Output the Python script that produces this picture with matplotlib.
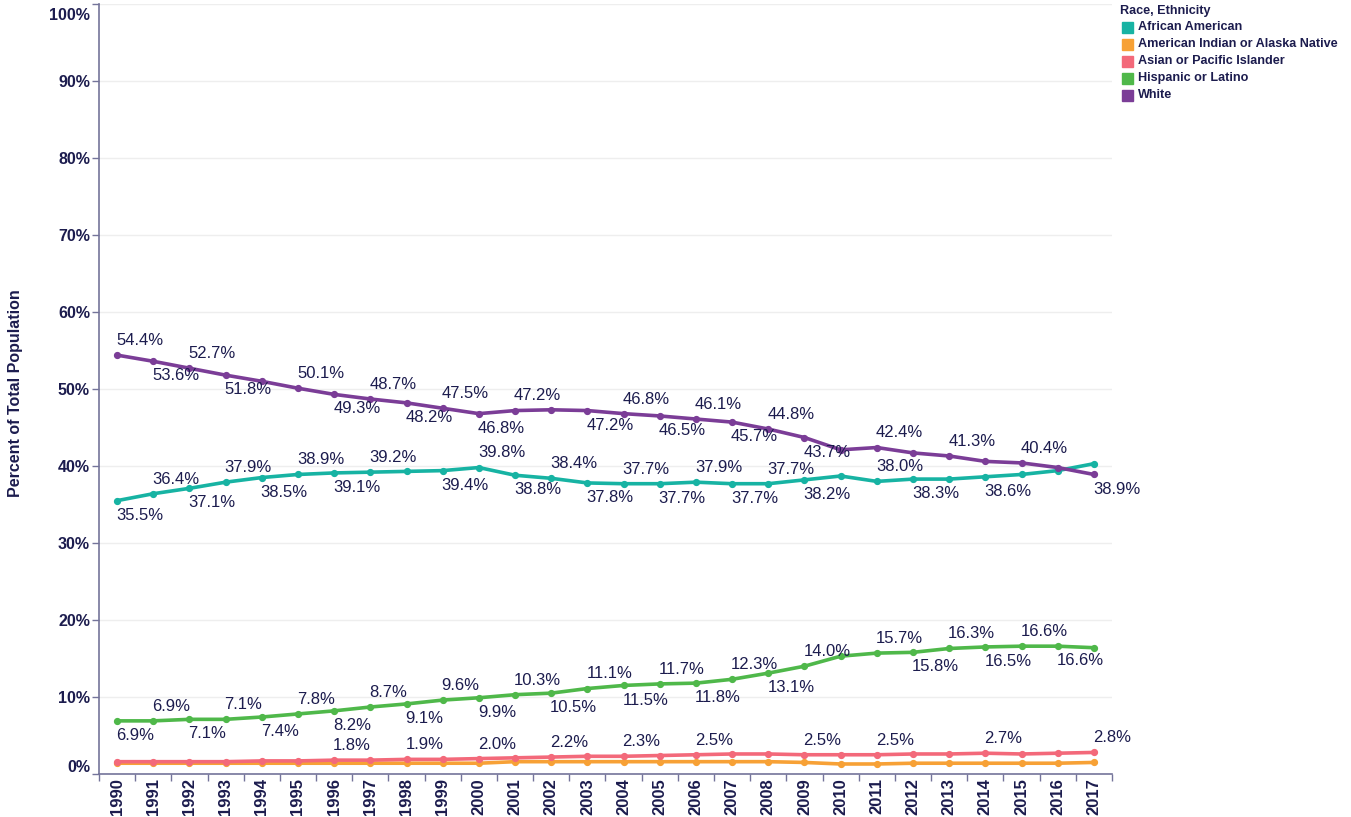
import matplotlib
matplotlib.use('Agg')
from matplotlib import pyplot as plt
from matplotlib.patches import Rectangle
import matplotlib.transforms as mtransforms

plt.rcParams['font.family'] = ['Liberation Sans', 'DejaVu Sans']

years = list(range(1990, 2018))

african_american = [35.5, 36.4, 37.1, 37.9, 38.5, 38.9, 39.1, 39.2, 39.3, 39.4,
                    39.8, 38.8, 38.4, 37.8, 37.7, 37.7, 37.9, 37.7, 37.7, 38.2,
                    38.7, 38.0, 38.3, 38.3, 38.6, 38.9, 39.4, 40.3]
american_indian = [1.4, 1.4, 1.4, 1.4, 1.4, 1.4, 1.4, 1.4, 1.4, 1.4,
                   1.4, 1.6, 1.6, 1.6, 1.6, 1.6, 1.6, 1.6, 1.6, 1.5,
                   1.3, 1.3, 1.4, 1.4, 1.4, 1.4, 1.4, 1.5]
asian_pacific = [1.6, 1.6, 1.6, 1.6, 1.7, 1.7, 1.8, 1.8, 1.9, 1.9,
                 2.0, 2.1, 2.2, 2.3, 2.3, 2.4, 2.5, 2.6, 2.6, 2.5,
                 2.5, 2.5, 2.6, 2.6, 2.7, 2.6, 2.7, 2.8]
hispanic = [6.9, 6.9, 7.1, 7.1, 7.4, 7.8, 8.2, 8.7, 9.1, 9.6,
            9.9, 10.3, 10.5, 11.1, 11.5, 11.7, 11.8, 12.3, 13.1, 14.0,
            15.3, 15.7, 15.8, 16.3, 16.5, 16.6, 16.6, 16.4]
white = [54.4, 53.6, 52.7, 51.8, 51.0, 50.1, 49.3, 48.7, 48.2, 47.5,
         46.8, 47.2, 47.3, 47.2, 46.8, 46.5, 46.1, 45.7, 44.8, 43.7,
         42.1, 42.4, 41.7, 41.3, 40.6, 40.4, 39.8, 38.9]

series_names = ['African American', 'American Indian or Alaska Native',
                'Asian or Pacific Islander', 'Hispanic or Latino', 'White']
series_values = [african_american, american_indian, asian_pacific, hispanic, white]
colors = ['#17b3a3', '#f7a136', '#f3697a', '#4fb84a', '#7b3d97']

# label placement per point: a = above, b = below, '' = no label
lab_aa = ['b','a','b','a','b','a','b','a','','b','a','b','a','b','a','b','a','b','a','b',
          '','a','b','','b','','','']
lab_ai = [''] * 28
lab_as = ['','','','','','','a','','a','','a','','a','','a','','a','','','a',
          '','a','','','a','','','a']
lab_hi = ['b','a','b','a','b','a','b','a','b','a','b','a','b','a','b','a','b','a','b','a',
          '','a','b','a','b','a','b','']
lab_wh = ['a','b','a','b','','a','b','a','b','a','b','a','','b','a','b','a','b','a','b',
          '','a','','a','','a','','b']
label_pos = [lab_aa, lab_ai, lab_as, lab_hi, lab_wh]

text_col = '#1c1c4e'
axis_col = '#74749a'

W, H = 1351, 817
fig = plt.figure(figsize=(W/100, H/100), dpi=100)
ax = fig.add_axes([99/W, (H-774)/H, (1112-99)/W, (774-4)/H])

for name, vals, c in zip(series_names, series_values, colors):
  ax.plot(years, vals, '-', color=c, lw=2.6, marker='o', ms=4.2, zorder=3,
          solid_joinstyle='round')

for vals, pos in zip(series_values, label_pos):
  for yr, v, p in zip(years, vals, pos):
    if not p:
      continue
    dy = 10.5 if p == 'a' else -10.5
    tr = ax.transData + mtransforms.ScaledTranslation(-1/100, dy/72, fig.dpi_scale_trans)
    ax.text(yr, v, f'{v:.1f}%', transform=tr, ha='left', va='center',
            fontsize=12, color=text_col, zorder=5)

ax.set_xlim(1989.5, 2017.5)
ax.set_ylim(0, 100)
ax.set_xticks(years)
ax.set_xticklabels([str(y) for y in years], rotation=90, fontweight='bold',
                   fontsize=12, color=text_col)
ax.set_xticks([y - 0.5 for y in years] + [2017.5], minor=True)
ax.tick_params(axis='x', which='major', length=0, pad=3)
ax.tick_params(axis='x', which='minor', length=5, color=axis_col, width=1)
ax.set_yticks(range(0, 101, 10))
ax.set_yticklabels([f'{v}%' for v in range(0, 101, 10)], fontweight='bold',
                   fontsize=11.5, color=text_col)
ax.tick_params(axis='y', length=5, color=axis_col, width=1, pad=1.5)
# keep the end labels inside the axis span
ylabs = ax.get_yticklabels()
ylabs[0].set_transform(ylabs[0].get_transform() +
                       mtransforms.ScaledTranslation(0, 8/100, fig.dpi_scale_trans))
ylabs[-1].set_transform(ylabs[-1].get_transform() +
                        mtransforms.ScaledTranslation(0, -10/100, fig.dpi_scale_trans))
ax.grid(axis='y', color='#eeeeee', lw=1)
ax.set_axisbelow(True)
for s in ['top', 'right']:
  ax.spines[s].set_visible(False)
for s in ['left', 'bottom']:
  ax.spines[s].set_color(axis_col)
  ax.spines[s].set_linewidth(1.2)

fig.text(16/W, 1 - 393/H, 'Percent of Total Population', rotation=90, ha='center',
         va='center', fontweight='bold', fontsize=11.5, color=text_col)

# legend
fig.text(1120/W, 1 - 11/H, 'Race, Ethnicity', ha='left', va='center',
         fontweight='bold', fontsize=9.1, color=text_col)
for i, (name, c) in enumerate(zip(series_names, colors)):
  yc = 27 + i * 17
  fig.patches.append(Rectangle((1122/W, 1 - (yc + 5.5)/H), 11/W, 11/H,
                               transform=fig.transFigure, color=c))
  fig.text(1138/W, 1 - yc/H, name, ha='left', va='center', fontweight='bold',
           fontsize=9.1, color=text_col)

fig.savefig('out.png', dpi=100)
